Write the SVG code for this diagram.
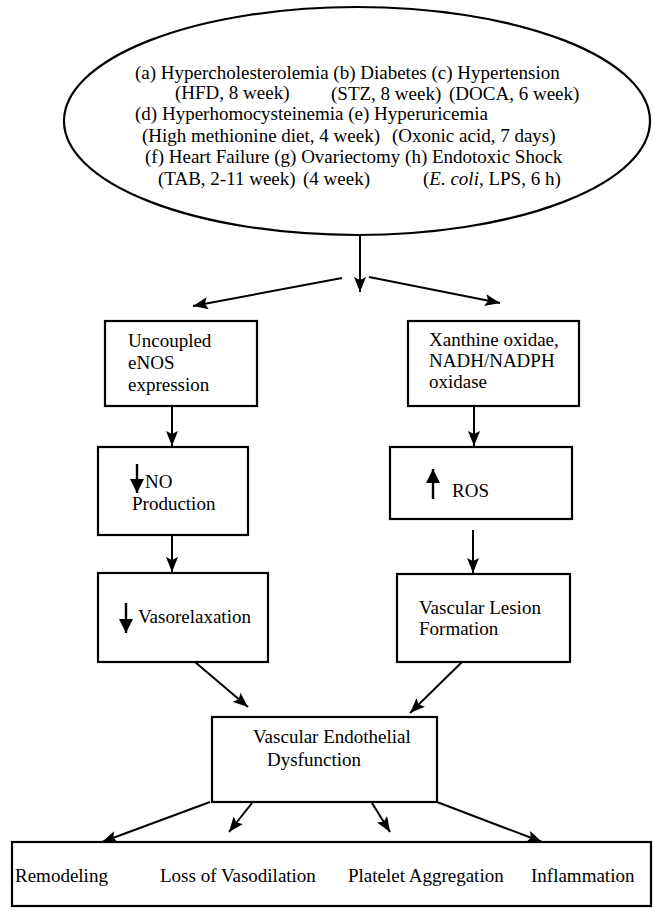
<svg xmlns="http://www.w3.org/2000/svg" width="653" height="911" viewBox="0 0 653 911">
<style>
text{font-family:"Liberation Serif","Times New Roman",serif;font-size:19px;fill:#000}
.box{fill:#fff;stroke:#000;stroke-width:2.2}
.ln{stroke:#000;stroke-width:2;fill:none}
.sym{stroke:#000;stroke-width:2.4;fill:none}
</style>
<defs>
<marker id="ah" markerUnits="userSpaceOnUse" markerWidth="16" markerHeight="12" refX="15" refY="6" orient="auto">
<path d="M0,0 L15,6 L0,12 L3,6 z" fill="#000"/>
</marker>
<marker id="sh" markerUnits="userSpaceOnUse" markerWidth="15" markerHeight="14" refX="14" refY="7" orient="auto">
<path d="M0,0 L14,7 L0,14 z" fill="#000"/>
</marker>
</defs>
<rect width="653" height="911" fill="#fff"/>
<g id="conditions">
<ellipse cx="357" cy="121" rx="293" ry="114" fill="#fff" stroke="#000" stroke-width="2.2"/>
<text x="135" y="79">(a) Hypercholesterolemia (b) Diabetes (c) Hypertension</text>
<text x="175" y="99">(HFD, 8 week)</text>
<text x="331" y="100">(STZ, 8 week)</text>
<text x="449" y="100">(DOCA, 6 week)</text>
<text x="135" y="120">(d) Hyperhomocysteinemia (e) Hyperuricemia</text>
<text x="142" y="142">(High methionine diet, 4 week)</text>
<text x="392" y="142">(Oxonic acid, 7 days)</text>
<text x="145" y="163">(f) Heart Failure (g) Ovariectomy (h) Endotoxic Shock</text>
<text x="158" y="185">(TAB, 2-11 week)</text>
<text x="303" y="185">(4 week)</text>
<text x="423" y="185">(<tspan font-style="italic">E. coli</tspan>, LPS, 6 h)</text>
</g>
<g id="uncoupled">
<rect class="box" x="105" y="321" width="152" height="85"/>
<text x="128" y="347">Uncoupled</text>
<text x="128" y="369">eNOS</text>
<text x="128" y="391">expression</text>
</g>
<g id="xanthine">
<rect class="box" x="408" y="321" width="171" height="85"/>
<text x="429" y="346">Xanthine oxidae,</text>
<text x="429" y="367">NADH/NADPH</text>
<text x="429" y="388">oxidase</text>
</g>
<g id="no">
<rect class="box" x="98" y="447" width="150" height="88"/>
<line class="sym" x1="137" y1="464" x2="137" y2="493" marker-end="url(#sh)"/>
<text x="145" y="488">NO</text>
<text x="132" y="510">Production</text>
</g>
<g id="ros">
<rect class="box" x="390" y="447" width="182" height="72"/>
<line class="sym" x1="433" y1="499" x2="433" y2="469" marker-end="url(#sh)"/>
<text x="452" y="497">ROS</text>
</g>
<g id="vasorelaxation">
<rect class="box" x="98" y="573" width="170" height="89"/>
<line class="sym" x1="126" y1="603" x2="126" y2="633" marker-end="url(#sh)"/>
<text x="138" y="623">Vasorelaxation</text>
</g>
<g id="lesion">
<rect class="box" x="397" y="574" width="173" height="88"/>
<text x="419" y="614">Vascular Lesion</text>
<text x="419" y="635">Formation</text>
</g>
<g id="ved">
<rect class="box" x="212" y="717" width="225" height="85"/>
<text x="253" y="743">Vascular Endothelial</text>
<text x="267" y="766">Dysfunction</text>
</g>
<g id="outcomes">
<rect class="box" x="12" y="842" width="639" height="64"/>
<text x="15" y="882">Remodeling</text>
<text x="160" y="882">Loss of Vasodilation</text>
<text x="348" y="882">Platelet Aggregation</text>
<text x="531" y="882">Inflammation</text>
</g>
<g id="connectors">
<line class="ln" x1="360" y1="235" x2="360" y2="292" marker-end="url(#ah)"/>
<line class="ln" x1="342" y1="278" x2="193" y2="306" marker-end="url(#ah)"/>
<line class="ln" x1="369" y1="277" x2="500" y2="303" marker-end="url(#ah)"/>
<line class="ln" x1="172" y1="406" x2="172" y2="446" marker-end="url(#ah)"/>
<line class="ln" x1="474" y1="406" x2="474" y2="446" marker-end="url(#ah)"/>
<line class="ln" x1="172" y1="535" x2="172" y2="572" marker-end="url(#ah)"/>
<line class="ln" x1="473" y1="530" x2="473" y2="573" marker-end="url(#ah)"/>
<line class="ln" x1="195" y1="662" x2="248" y2="707" marker-end="url(#ah)"/>
<line class="ln" x1="462" y1="662" x2="410" y2="713" marker-end="url(#ah)"/>
<line class="ln" x1="210" y1="802" x2="102" y2="842" marker-end="url(#ah)"/>
<line class="ln" x1="252" y1="803" x2="229" y2="832" marker-end="url(#ah)"/>
<line class="ln" x1="372" y1="803" x2="390" y2="832" marker-end="url(#ah)"/>
<line class="ln" x1="437" y1="802" x2="542" y2="842" marker-end="url(#ah)"/>
</g>
</svg>
